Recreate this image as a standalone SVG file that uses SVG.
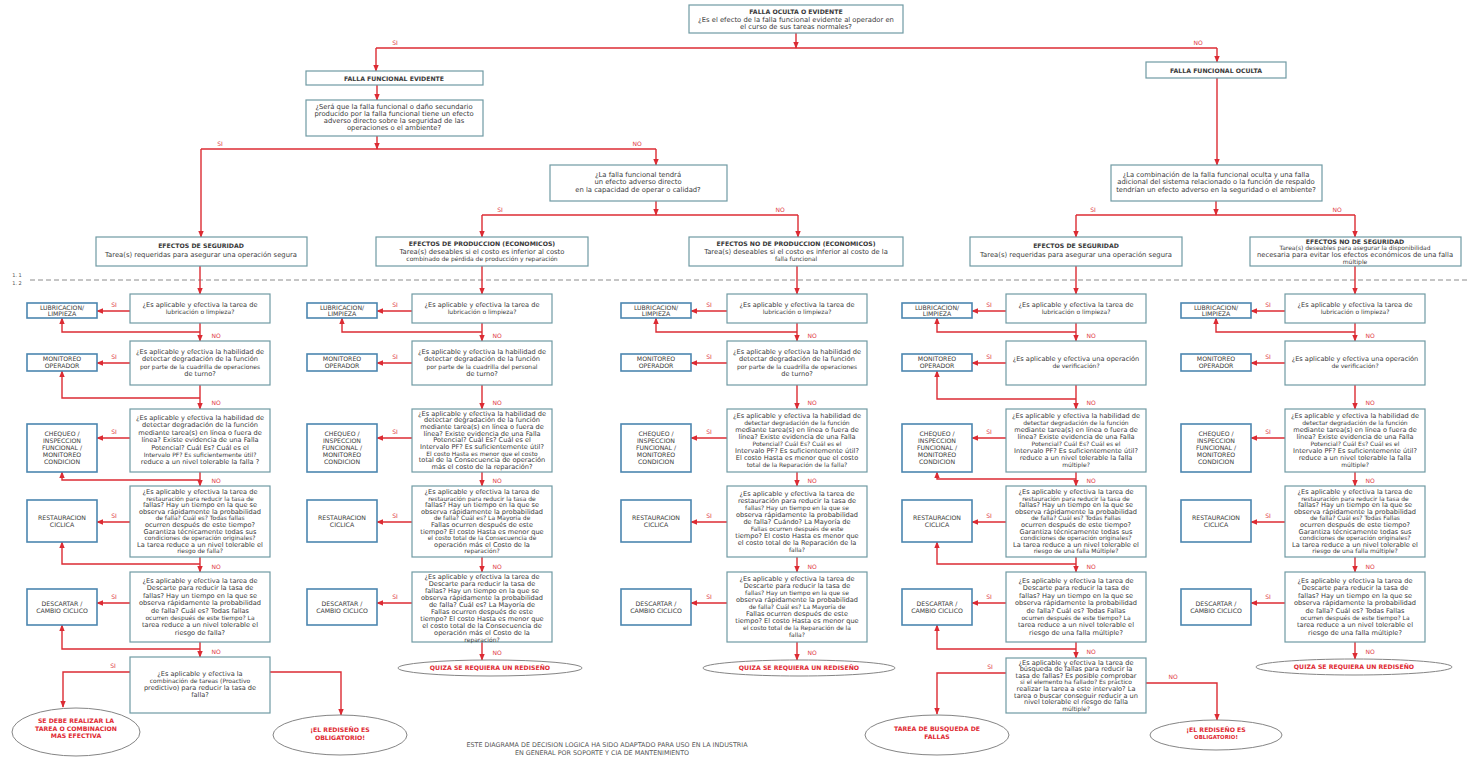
<svg xmlns="http://www.w3.org/2000/svg" width="1470" height="760" viewBox="0 0 1470 760">
<style>
  .bx{fill:#fff;stroke:#6f9aa3;stroke-width:1.2}
  .tk{fill:#fff;stroke:#4b86b0;stroke-width:1.6}
  .ln{fill:none;stroke:#dc2b33;stroke-width:1.4}
  .arr{marker-end:url(#ah)}
  .js{marker-start:url(#ah)}
  .dash{stroke:#8c8c8c;stroke-width:1;stroke-dasharray:5 3;fill:none}
  text{font-family:"DejaVu Sans","Liberation Sans",sans-serif;fill:#3a3a3a;text-anchor:middle}
  .h{font-size:6.2px;font-weight:bold}
  .s{font-size:6.8px}
  .q{font-size:6.6px}
  .sm{font-size:6px}
  .tt{font-size:6.2px}
  .lb{font-size:6px;fill:#e0353d}
  .el{fill:#fff;stroke:#858585;stroke-width:1}
  .et{font-size:6.2px;font-weight:bold;fill:#e02a33}
  .nt{font-size:6.4px;fill:#555}
  .mk{font-size:5px;fill:#555}
</style>
<defs>
  <marker id="ah" viewBox="0 0 10 10" refX="9" refY="5" markerWidth="5" markerHeight="5" orient="auto-start-reverse">
    <path d="M0,1 L10,5 L0,9z" fill="#dc2b33"/>
  </marker>
</defs>

<!-- page fold marker -->
<path class="dash" d="M30,280 H1470"/>
<text x="17" y="277" class="mk">1. 1</text>
<text x="17" y="285" class="mk">1. 2</text>

<!-- ===== connectors ===== -->
<g id="connectors">
  <!-- upper decision tree -->
  <path class="ln arr" d="M796,33 V48"/>
  <path class="ln" d="M376,48 H1217"/>
  <path class="ln arr" d="M376,48 V71"/>
  <path class="ln arr" d="M1217,48 V62"/>
  <path class="ln arr" d="M377,85 V100"/>
  <path class="ln arr" d="M377,136 V149"/>
  <path class="ln" d="M201,149 H656"/>
  <path class="ln arr" d="M201,149 V237"/>
  <path class="ln arr" d="M656,149 V165"/>
  <path class="ln arr" d="M656,201 V215"/>
  <path class="ln" d="M482,215 H798"/>
  <path class="ln arr" d="M482,215 V237"/>
  <path class="ln arr" d="M798,215 V237"/>
  <path class="ln arr" d="M1217,78 V165"/>
  <path class="ln arr" d="M1216,201 V215"/>
  <path class="ln" d="M1076,215 H1355"/>
  <path class="ln arr" d="M1076,215 V237"/>
  <path class="ln arr" d="M1355,215 V237"/>
  <!-- effects to first question -->
  <path class="ln arr" d="M200,266 V294"/>
  <path class="ln arr" d="M482,266 V294"/>
  <path class="ln arr" d="M797,266 V294"/>
  <path class="ln arr" d="M1076,266 V294"/>
  <path class="ln arr" d="M1355,266 V294"/>

  <!-- column 1 -->
  <path class="ln arr" d="M200,323 V341"/>
  <path class="ln arr" d="M200,385 V409"/>
  <path class="ln arr" d="M200,472 V486"/>
  <path class="ln arr" d="M200,557 V572"/>
  <path class="ln arr" d="M200,642 V657"/>
  <path class="ln arr" d="M130,311 H97"/>
  <path class="ln arr" d="M130,363 H97"/>
  <path class="ln arr" d="M130,438 H97"/>
  <path class="ln arr" d="M130,522 H97"/>
  <path class="ln arr" d="M130,603 H97"/>
  <path class="ln js" d="M62,318 V332 H200"/>
  <path class="ln js" d="M62,371 V398 H200"/>
  <path class="ln js" d="M62,472 V480 H200"/>
  <path class="ln js" d="M62,542 V564 H200"/>
  <path class="ln js" d="M62,625 V649 H200"/>
  <path class="ln arr" d="M130,672 H63 V707"/>
  <path class="ln arr" d="M270,672 H341 V715"/>

  <!-- column 2 -->
  <path class="ln arr" d="M482,323 V341"/>
  <path class="ln arr" d="M482,385 V409"/>
  <path class="ln arr" d="M482,472 V486"/>
  <path class="ln arr" d="M482,557 V572"/>
  <path class="ln arr" d="M482,642 V660"/>
  <path class="ln arr" d="M412,311 H377"/>
  <path class="ln arr" d="M412,363 H377"/>
  <path class="ln arr" d="M412,438 H377"/>
  <path class="ln arr" d="M412,522 H377"/>
  <path class="ln arr" d="M412,603 H377"/>
  <path class="ln js" d="M342,318 V332 H482"/>

  <!-- column 3 -->
  <path class="ln arr" d="M797,323 V341"/>
  <path class="ln arr" d="M797,385 V409"/>
  <path class="ln arr" d="M797,472 V486"/>
  <path class="ln arr" d="M797,557 V572"/>
  <path class="ln arr" d="M797,642 V660"/>
  <path class="ln arr" d="M727,311 H691"/>
  <path class="ln arr" d="M727,363 H691"/>
  <path class="ln arr" d="M727,438 H691"/>
  <path class="ln arr" d="M727,522 H691"/>
  <path class="ln arr" d="M727,603 H691"/>
  <path class="ln js" d="M656,318 V332 H797"/>

  <!-- column 4 -->
  <path class="ln arr" d="M1076,323 V341"/>
  <path class="ln arr" d="M1076,385 V409"/>
  <path class="ln arr" d="M1076,472 V486"/>
  <path class="ln arr" d="M1076,557 V572"/>
  <path class="ln arr" d="M1076,642 V658"/>
  <path class="ln arr" d="M1006,311 H972"/>
  <path class="ln arr" d="M1006,363 H972"/>
  <path class="ln arr" d="M1006,438 H972"/>
  <path class="ln arr" d="M1006,522 H972"/>
  <path class="ln arr" d="M1006,603 H972"/>
  <path class="ln js" d="M937,318 V332 H1076"/>
  <path class="ln js" d="M937,371 V399 H1076"/>
  <path class="ln js" d="M937,472 V479 H1076"/>
  <path class="ln js" d="M937,542 V564 H1076"/>
  <path class="ln js" d="M937,625 V649 H1076"/>
  <path class="ln arr" d="M1006,673 H937 V714"/>
  <path class="ln arr" d="M1146,683 H1217 V720"/>

  <!-- column 5 -->
  <path class="ln arr" d="M1355,323 V341"/>
  <path class="ln arr" d="M1355,385 V409"/>
  <path class="ln arr" d="M1355,472 V486"/>
  <path class="ln arr" d="M1355,557 V572"/>
  <path class="ln arr" d="M1355,642 V659"/>
  <path class="ln arr" d="M1285,311 H1251"/>
  <path class="ln arr" d="M1285,363 H1251"/>
  <path class="ln arr" d="M1285,438 H1251"/>
  <path class="ln arr" d="M1285,522 H1251"/>
  <path class="ln arr" d="M1285,603 H1251"/>
  <path class="ln js" d="M1216,318 V332 H1355"/>

  <!-- branch labels -->
  <g class="lbls">
    <text class="lb" x="395" y="45">SI</text>
    <text class="lb" x="1198" y="45">NO</text>
    <text class="lb" x="220" y="146">SI</text>
    <text class="lb" x="637" y="146">NO</text>
    <text class="lb" x="500" y="212">SI</text>
    <text class="lb" x="780" y="212">NO</text>
    <text class="lb" x="1093" y="212">SI</text>
    <text class="lb" x="1337" y="212">NO</text>
    <!-- col 1 -->
    <text class="lb" x="114" y="307">SI</text><text class="lb" x="114" y="359">SI</text><text class="lb" x="114" y="434">SI</text><text class="lb" x="114" y="518">SI</text><text class="lb" x="114" y="599">SI</text><text class="lb" x="113" y="668">SI</text>
    <text class="lb" x="216" y="338">NO</text><text class="lb" x="216" y="405">NO</text><text class="lb" x="216" y="483">NO</text><text class="lb" x="216" y="569">NO</text><text class="lb" x="216" y="654">NO</text>
    <!-- col 2 -->
    <text class="lb" x="395" y="307">SI</text><text class="lb" x="395" y="359">SI</text><text class="lb" x="395" y="434">SI</text><text class="lb" x="395" y="518">SI</text><text class="lb" x="395" y="599">SI</text>
    <text class="lb" x="497" y="338">NO</text><text class="lb" x="497" y="405">NO</text><text class="lb" x="497" y="483">NO</text><text class="lb" x="497" y="569">NO</text><text class="lb" x="497" y="655">NO</text>
    <!-- col 3 -->
    <text class="lb" x="709" y="307">SI</text><text class="lb" x="709" y="359">SI</text><text class="lb" x="709" y="434">SI</text><text class="lb" x="709" y="518">SI</text><text class="lb" x="709" y="599">SI</text>
    <text class="lb" x="812" y="338">NO</text><text class="lb" x="812" y="405">NO</text><text class="lb" x="812" y="483">NO</text><text class="lb" x="812" y="569">NO</text><text class="lb" x="812" y="655">NO</text>
    <!-- col 4 -->
    <text class="lb" x="989" y="307">SI</text><text class="lb" x="989" y="359">SI</text><text class="lb" x="989" y="434">SI</text><text class="lb" x="989" y="518">SI</text><text class="lb" x="989" y="599">SI</text><text class="lb" x="990" y="669">SI</text>
    <text class="lb" x="1091" y="338">NO</text><text class="lb" x="1091" y="405">NO</text><text class="lb" x="1091" y="483">NO</text><text class="lb" x="1091" y="569">NO</text><text class="lb" x="1091" y="654">NO</text><text class="lb" x="1173" y="679">NO</text>
    <!-- col 5 -->
    <text class="lb" x="1268" y="307">SI</text><text class="lb" x="1268" y="359">SI</text><text class="lb" x="1268" y="434">SI</text><text class="lb" x="1268" y="518">SI</text><text class="lb" x="1268" y="599">SI</text>
    <text class="lb" x="1370" y="338">NO</text><text class="lb" x="1370" y="405">NO</text><text class="lb" x="1370" y="483">NO</text><text class="lb" x="1370" y="569">NO</text><text class="lb" x="1370" y="654">NO</text>
  </g>
</g>

<!-- ===== upper decision nodes ===== -->
<g id="falla-oculta-evidente">
  <rect class="bx" x="689" y="5" width="214" height="28"/>
  <text class="h" x="796" y="14">FALLA OCULTA O EVIDENTE</text>
  <text class="s" x="796" y="22">¿Es el efecto de la falla funcional evidente al operador en</text>
  <text class="s" x="796" y="29">el curso de sus tareas normales?</text>
</g>
<g id="falla-evidente">
  <rect class="bx" x="306" y="71" width="177" height="14"/>
  <text class="h" x="394" y="80.5">FALLA FUNCIONAL EVIDENTE</text>
</g>
<g id="q-seguridad-evidente">
  <rect class="bx" x="306" y="100" width="177" height="36"/>
  <text class="s" x="394" y="109">¿Será que la falla funcional o daño secundario</text>
  <text class="s" x="394" y="116">producido por la falla funcional tiene un efecto</text>
  <text class="s" x="394" y="123">adverso directo sobre la seguridad de las</text>
  <text class="s" x="394" y="130">operaciones o el ambiente?</text>
</g>
<g id="q-produccion">
  <rect class="bx" x="550" y="165" width="177" height="36"/>
  <text class="s" x="638" y="177">¿La falla funcional tendrá</text>
  <text class="s" x="638" y="184">un efecto adverso directo</text>
  <text class="s" x="638" y="192">en la capacidad de operar o calidad?</text>
</g>
<g id="falla-oculta">
  <rect class="bx" x="1146" y="62" width="140" height="16"/>
  <text class="h" x="1216" y="72.5">FALLA FUNCIONAL OCULTA</text>
</g>
<g id="q-falla-multiple">
  <rect class="bx" x="1111" y="165" width="211" height="36"/>
  <text class="s" x="1216" y="177">¿La combinación de la falla funcional oculta y una falla</text>
  <text class="s" x="1216" y="184">adicional del sistema relacionado o la función de respaldo</text>
  <text class="s" x="1216" y="192">tendrían un efecto adverso en la seguridad o el ambiente?</text>
</g>

<!-- ===== consequence nodes ===== -->
<g id="efectos-seguridad-1">
  <rect class="bx" x="96" y="237" width="211" height="29"/>
  <text class="h" x="201" y="248">EFECTOS DE SEGURIDAD</text>
  <text class="s" x="201" y="257">Tarea(s) requeridas para asegurar una operación segura</text>
</g>
<g id="efectos-produccion">
  <rect class="bx" x="376" y="237" width="212" height="29"/>
  <text class="h" x="482" y="246">EFECTOS DE PRODUCCION (ECONOMICOS)</text>
  <text class="s" x="482" y="253.5">Tarea(s) deseables si el costo es inferior al costo</text>
  <text class="sm" x="482" y="260.5">combinado de pérdida de producción y reparación</text>
</g>
<g id="efectos-no-produccion">
  <rect class="bx" x="689" y="237" width="214" height="29"/>
  <text class="h" x="796" y="246">EFECTOS NO DE PRODUCCION (ECONOMICOS)</text>
  <text class="s" x="796" y="253.5">Tarea(s) deseables si el costo es inferior al costo de la</text>
  <text class="sm" x="796" y="260.5">falla funcional</text>
</g>
<g id="efectos-seguridad-2">
  <rect class="bx" x="970" y="237" width="212" height="29"/>
  <text class="h" x="1076" y="248">EFECTOS DE SEGURIDAD</text>
  <text class="s" x="1076" y="257">Tarea(s) requeridas para asegurar una operación segura</text>
</g>
<g id="efectos-no-seguridad">
  <rect class="bx" x="1250" y="237" width="211" height="29"/>
  <text class="h" x="1355" y="243.5">EFECTOS NO DE SEGURIDAD</text>
  <text class="sm" x="1355" y="250">Tarea(s) deseables para asegurar la disponibilidad</text>
  <text class="s" x="1355" y="257">necesaria para evitar los efectos económicos de una falla</text>
  <text class="sm" x="1355" y="263.5">múltiple</text>
</g>

<!-- ===== column 1 : seguridad (evidente) ===== -->
<g id="c1-q1"><rect class="bx" x="130" y="294" width="140" height="29"/>
  <text class="q" x="200" y="307">¿Es aplicable y efectiva la tarea de</text><text class="sm" x="200" y="314">lubricación o limpieza?</text></g>
<g id="c1-q2"><rect class="bx" x="130" y="341" width="140" height="44"/>
  <text class="q" x="200" y="354"><tspan x="200">¿Es aplicable y efectiva la habilidad de</tspan><tspan x="200" dy="7.3">detectar degradación de la función</tspan><tspan x="200" dy="7.3" class="sm">por parte de la cuadrilla de operaciones</tspan><tspan x="200" dy="7.3">de turno?</tspan></text></g>
<g id="c1-q3"><rect class="bx" x="130" y="409" width="140" height="63"/>
  <text class="q" x="200" y="420"><tspan x="200">¿Es aplicable y efectiva la habilidad de</tspan><tspan x="200" dy="7.4">detectar degradación de la función</tspan><tspan x="200" dy="7.4">mediante tarea(s) en línea o fuera de</tspan><tspan x="200" dy="7.4">línea? Existe evidencia de una Falla</tspan><tspan x="200" dy="7.4">Potencial? Cuál Es? Cuál es el</tspan><tspan x="200" dy="7.4" class="sm">Intervalo PF? Es suficientemente útil?</tspan><tspan x="200" dy="7.4">reduce a un nivel tolerable la falla ?</tspan></text></g>
<g id="c1-q4"><rect class="bx" x="130" y="486" width="140" height="71"/>
  <text class="q" x="200" y="494"><tspan x="200">¿Es aplicable y efectiva la tarea de</tspan><tspan x="200" dy="6.6" class="sm">restauración para reducir la tasa de</tspan><tspan x="200" dy="6.6">fallas? Hay un tiempo en la que se</tspan><tspan x="200" dy="6.6">observa rápidamente la probabilidad</tspan><tspan x="200" dy="6.6" class="sm">de falla? Cuál es? Todas fallas</tspan><tspan x="200" dy="6.6">ocurren después de este tiempo?</tspan><tspan x="200" dy="6.6">Garantiza técnicamente todas sus</tspan><tspan x="200" dy="6.6" class="sm">condiciones de operación originales?</tspan><tspan x="200" dy="6.6">La tarea reduce a un nivel tolerable el</tspan><tspan x="200" dy="6.6" class="sm">riesgo de falla?</tspan></text></g>
<g id="c1-q5"><rect class="bx" x="130" y="572" width="140" height="70"/>
  <text class="q" x="200" y="583"><tspan x="200">¿Es aplicable y efectiva la tarea de</tspan><tspan x="200" dy="7.4">Descarte para reducir la tasa de</tspan><tspan x="200" dy="7.4">fallas? Hay un tiempo en la que se</tspan><tspan x="200" dy="7.4">observa rápidamente la probabilidad</tspan><tspan x="200" dy="7.4">de falla? Cuál es? Todas fallas</tspan><tspan x="200" dy="7.4" class="sm">ocurren después de este tiempo? La</tspan><tspan x="200" dy="7.4">tarea reduce a un nivel tolerable el</tspan><tspan x="200" dy="7.4">riesgo de falla?</tspan></text></g>
<g id="c1-q6"><rect class="bx" x="130" y="657" width="140" height="56"/>
  <text class="q" x="200" y="676"><tspan x="200">¿Es aplicable y efectiva la</tspan><tspan x="200" dy="7" class="sm">combinación de tareas (Proactivo</tspan><tspan x="200" dy="7">predictivo) para reducir la tasa de</tspan><tspan x="200" dy="7">falla?</tspan></text></g>
<g id="c1-t1"><rect class="tk" x="27" y="303" width="70" height="15"/><text class="tt" x="62" y="309.5">LUBRICACION/</text><text class="tt" x="62" y="316">LIMPIEZA</text></g>
<g id="c1-t2"><rect class="tk" x="27" y="354" width="70" height="17"/><text class="tt" x="62" y="361">MONITOREO</text><text class="tt" x="62" y="368">OPERADOR</text></g>
<g id="c1-t3"><rect class="tk" x="27" y="424" width="70" height="48"/><text class="tt" x="62" y="436"><tspan x="62">CHEQUEO /</tspan><tspan x="62" dy="7">INSPECCION</tspan><tspan x="62" dy="7">FUNCIONAL /</tspan><tspan x="62" dy="7">MONITOREO</tspan><tspan x="62" dy="7">CONDICION</tspan></text></g>
<g id="c1-t4"><rect class="tk" x="27" y="500" width="70" height="42"/><text class="tt" x="62" y="519.5">RESTAURACION</text><text class="tt" x="62" y="527">CICLICA</text></g>
<g id="c1-t5"><rect class="tk" x="27" y="589" width="70" height="36"/><text class="tt" x="62" y="605.5">DESCARTAR /</text><text class="tt" x="62" y="612.5">CAMBIO CICLICO</text></g>
<g id="c1-fin-si"><ellipse class="el" cx="76" cy="732" rx="64" ry="24"/>
  <text class="et" x="76" y="723">SE DEBE REALIZAR LA</text><text class="et" x="76" y="730.5">TAREA O COMBINACION</text><text class="et" x="76" y="738">MAS EFECTIVA</text></g>
<g id="c1-fin-no"><ellipse class="el" cx="340" cy="735" rx="67" ry="20"/>
  <text class="et" x="340" y="732">¡EL REDISEÑO ES</text><text class="et" x="340" y="739.5">OBLIGATORIO!</text></g>

<!-- ===== column 2 : produccion ===== -->
<g id="c2-q1"><rect class="bx" x="412" y="294" width="140" height="29"/>
  <text class="q" x="482" y="307">¿Es aplicable y efectiva la tarea de</text><text class="sm" x="482" y="314">lubricación o limpieza?</text></g>
<g id="c2-q2"><rect class="bx" x="412" y="341" width="140" height="44"/>
  <text class="q" x="482" y="354"><tspan x="482">¿Es aplicable y efectiva la habilidad de</tspan><tspan x="482" dy="7.3">detectar degradación de la función</tspan><tspan x="482" dy="7.3" class="sm">por parte de la cuadrilla del personal</tspan><tspan x="482" dy="7.3">de turno?</tspan></text></g>
<g id="c2-q3"><rect class="bx" x="412" y="409" width="140" height="63"/>
  <text class="q" x="482" y="415.5"><tspan x="482">¿Es aplicable y efectiva la habilidad de</tspan><tspan x="482" dy="6.7">detectar degradación de la función</tspan><tspan x="482" dy="6.7">mediante tarea(s) en línea o fuera de</tspan><tspan x="482" dy="6.7">línea? Existe evidencia de una Falla</tspan><tspan x="482" dy="6.7">Potencial? Cuál Es? Cuál es el</tspan><tspan x="482" dy="6.7">Intervalo PF? Es suficientemente útil?</tspan><tspan x="482" dy="6.7" class="sm">El costo Hasta es menor que el costo</tspan><tspan x="482" dy="6.7">total de la Consecuencia de operación</tspan><tspan x="482" dy="6.7">más el costo de la reparación?</tspan></text></g>
<g id="c2-q4"><rect class="bx" x="412" y="486" width="140" height="71"/>
  <text class="q" x="482" y="494"><tspan x="482">¿Es aplicable y efectiva la tarea de</tspan><tspan x="482" dy="6.6" class="sm">restauración para reducir la tasa de</tspan><tspan x="482" dy="6.6">fallas? Hay un tiempo en la que se</tspan><tspan x="482" dy="6.6">observa rápidamente la probabilidad</tspan><tspan x="482" dy="6.6" class="sm">de falla? Cuál es? La Mayoría de</tspan><tspan x="482" dy="6.6">Fallas ocurren después de este</tspan><tspan x="482" dy="6.6">tiempo? El costo Hasta es menor que</tspan><tspan x="482" dy="6.6" class="sm">el costo total de la Consecuencia de</tspan><tspan x="482" dy="6.6">operación más el Costo de la</tspan><tspan x="482" dy="6.6" class="sm">reparación?</tspan></text></g>
<g id="c2-q5"><rect class="bx" x="412" y="572" width="140" height="70"/>
  <text class="q" x="482" y="579"><tspan x="482">¿Es aplicable y efectiva la tarea de</tspan><tspan x="482" dy="7">Descarte para reducir la tasa de</tspan><tspan x="482" dy="7">fallas? Hay un tiempo en la que se</tspan><tspan x="482" dy="7">observa rápidamente la probabilidad</tspan><tspan x="482" dy="7">de falla? Cuál es? La Mayoría de</tspan><tspan x="482" dy="7">Fallas ocurren después de este</tspan><tspan x="482" dy="7">tiempo? El costo Hasta es menor que</tspan><tspan x="482" dy="7">el costo total de la Consecuencia de</tspan><tspan x="482" dy="7">operación más el Costo de la</tspan><tspan x="482" dy="7" class="sm">reparación?</tspan></text></g>
<g id="c2-t1"><rect class="tk" x="307" y="303" width="70" height="15"/><text class="tt" x="342" y="309.5">LUBRICACION/</text><text class="tt" x="342" y="316">LIMPIEZA</text></g>
<g id="c2-t2"><rect class="tk" x="307" y="354" width="70" height="17"/><text class="tt" x="342" y="361">MONITOREO</text><text class="tt" x="342" y="368">OPERADOR</text></g>
<g id="c2-t3"><rect class="tk" x="307" y="424" width="70" height="48"/><text class="tt" x="342" y="436"><tspan x="342">CHEQUEO /</tspan><tspan x="342" dy="7">INSPECCION</tspan><tspan x="342" dy="7">FUNCIONAL /</tspan><tspan x="342" dy="7">MONITOREO</tspan><tspan x="342" dy="7">CONDICION</tspan></text></g>
<g id="c2-t4"><rect class="tk" x="307" y="500" width="70" height="42"/><text class="tt" x="342" y="519.5">RESTAURACION</text><text class="tt" x="342" y="527">CICLICA</text></g>
<g id="c2-t5"><rect class="tk" x="307" y="589" width="70" height="36"/><text class="tt" x="342" y="605.5">DESCARTAR /</text><text class="tt" x="342" y="612.5">CAMBIO CICLICO</text></g>
<g id="c2-fin"><ellipse class="el" cx="490" cy="668" rx="92" ry="8"/>
  <text class="et" x="490" y="670">QUIZA SE REQUIERA UN REDISEÑO</text></g>

<!-- ===== column 3 : no produccion ===== -->
<g id="c3-q1"><rect class="bx" x="727" y="294" width="140" height="29"/>
  <text class="q" x="797" y="307">¿Es aplicable y efectiva la tarea de</text><text class="sm" x="797" y="314">lubricación o limpieza?</text></g>
<g id="c3-q2"><rect class="bx" x="727" y="341" width="140" height="44"/>
  <text class="q" x="797" y="354"><tspan x="797">¿Es aplicable y efectiva la habilidad de</tspan><tspan x="797" dy="7.3">detectar degradación de la función</tspan><tspan x="797" dy="7.3" class="sm">por parte de la cuadrilla de operaciones</tspan><tspan x="797" dy="7.3">de turno?</tspan></text></g>
<g id="c3-q3"><rect class="bx" x="727" y="409" width="140" height="63"/>
  <text class="q" x="797" y="418"><tspan x="797">¿Es aplicable y efectiva la habilidad de</tspan><tspan x="797" dy="7" class="sm">detectar degradación de la función</tspan><tspan x="797" dy="7">mediante tarea(s) en línea o fuera de</tspan><tspan x="797" dy="7">línea? Existe evidencia de una Falla</tspan><tspan x="797" dy="7" class="sm">Potencial? Cuál Es? Cuál es el</tspan><tspan x="797" dy="7">Intervalo PF? Es suficientemente útil?</tspan><tspan x="797" dy="7">El costo Hasta es menor que el costo</tspan><tspan x="797" dy="7" class="sm">total de la Reparación de la falla?</tspan></text></g>
<g id="c3-q4"><rect class="bx" x="727" y="486" width="140" height="71"/>
  <text class="q" x="797" y="495.5"><tspan x="797">¿Es aplicable y efectiva la tarea de</tspan><tspan x="797" dy="7">restauración para reducir la tasa de</tspan><tspan x="797" dy="7" class="sm">fallas? Hay un tiempo en la que se</tspan><tspan x="797" dy="7">observa rápidamente la probabilidad</tspan><tspan x="797" dy="7">de falla? Cuándo? La Mayoría de</tspan><tspan x="797" dy="7" class="sm">Fallas ocurren después de este</tspan><tspan x="797" dy="7">tiempo? El costo Hasta es menor que</tspan><tspan x="797" dy="7">el costo total de la Reparación de la</tspan><tspan x="797" dy="7" class="sm">falla?</tspan></text></g>
<g id="c3-q5"><rect class="bx" x="727" y="572" width="140" height="70"/>
  <text class="q" x="797" y="581"><tspan x="797">¿Es aplicable y efectiva la tarea de</tspan><tspan x="797" dy="7">Descarte para reducir la tasa de</tspan><tspan x="797" dy="7" class="sm">fallas? Hay un tiempo en la que se</tspan><tspan x="797" dy="7">observa rápidamente la probabilidad</tspan><tspan x="797" dy="7" class="sm">de falla? Cuál es? La Mayoría de</tspan><tspan x="797" dy="7">Fallas ocurren después de este</tspan><tspan x="797" dy="7">tiempo? El costo Hasta es menor que</tspan><tspan x="797" dy="7" class="sm">el costo total de la Reparación de la</tspan><tspan x="797" dy="7" class="sm">falla?</tspan></text></g>
<g id="c3-t1"><rect class="tk" x="621" y="303" width="70" height="15"/><text class="tt" x="656" y="309.5">LUBRICACION/</text><text class="tt" x="656" y="316">LIMPIEZA</text></g>
<g id="c3-t2"><rect class="tk" x="621" y="354" width="70" height="17"/><text class="tt" x="656" y="361">MONITOREO</text><text class="tt" x="656" y="368">OPERADOR</text></g>
<g id="c3-t3"><rect class="tk" x="621" y="424" width="70" height="48"/><text class="tt" x="656" y="436"><tspan x="656">CHEQUEO /</tspan><tspan x="656" dy="7">INSPECCION</tspan><tspan x="656" dy="7">FUNCIONAL /</tspan><tspan x="656" dy="7">MONITOREO</tspan><tspan x="656" dy="7">CONDICION</tspan></text></g>
<g id="c3-t4"><rect class="tk" x="621" y="500" width="70" height="42"/><text class="tt" x="656" y="519.5">RESTAURACION</text><text class="tt" x="656" y="527">CICLICA</text></g>
<g id="c3-t5"><rect class="tk" x="621" y="589" width="70" height="36"/><text class="tt" x="656" y="605.5">DESCARTAR /</text><text class="tt" x="656" y="612.5">CAMBIO CICLICO</text></g>
<g id="c3-fin"><ellipse class="el" cx="799" cy="668" rx="96" ry="8"/>
  <text class="et" x="799" y="670">QUIZA SE REQUIERA UN REDISEÑO</text></g>

<!-- ===== column 4 : seguridad (oculta) ===== -->
<g id="c4-q1"><rect class="bx" x="1006" y="294" width="140" height="29"/>
  <text class="q" x="1076" y="307">¿Es aplicable y efectiva la tarea de</text><text class="sm" x="1076" y="314">lubricación o limpieza?</text></g>
<g id="c4-q2"><rect class="bx" x="1006" y="341" width="140" height="44"/>
  <text class="q" x="1076" y="361">¿Es aplicable y efectiva una operación</text><text class="sm" x="1076" y="368">de verificación?</text></g>
<g id="c4-q3"><rect class="bx" x="1006" y="409" width="140" height="63"/>
  <text class="q" x="1076" y="418"><tspan x="1076">¿Es aplicable y efectiva la habilidad de</tspan><tspan x="1076" dy="7" class="sm">detectar degradación de la función</tspan><tspan x="1076" dy="7">mediante tarea(s) en línea o fuera de</tspan><tspan x="1076" dy="7">línea? Existe evidencia de una Falla</tspan><tspan x="1076" dy="7" class="sm">Potencial? Cuál Es? Cuál es el</tspan><tspan x="1076" dy="7">Intervalo PF? Es suficientemente útil?</tspan><tspan x="1076" dy="7">reduce a un nivel tolerable la falla</tspan><tspan x="1076" dy="7" class="sm">múltiple?</tspan></text></g>
<g id="c4-q4"><rect class="bx" x="1006" y="486" width="140" height="71"/>
  <text class="q" x="1076" y="494"><tspan x="1076">¿Es aplicable y efectiva la tarea de</tspan><tspan x="1076" dy="6.6" class="sm">restauración para reducir la tasa de</tspan><tspan x="1076" dy="6.6">fallas? Hay un tiempo en la que se</tspan><tspan x="1076" dy="6.6">observa rápidamente la probabilidad</tspan><tspan x="1076" dy="6.6" class="sm">de falla? Cuál es? Todas Fallas</tspan><tspan x="1076" dy="6.6">ocurren después de este tiempo?</tspan><tspan x="1076" dy="6.6">Garantiza técnicamente todas sus</tspan><tspan x="1076" dy="6.6" class="sm">condiciones de operación originales?</tspan><tspan x="1076" dy="6.6">La tarea reduce a un nivel tolerable el</tspan><tspan x="1076" dy="6.6" class="sm">riesgo de una falla Múltiple?</tspan></text></g>
<g id="c4-q5"><rect class="bx" x="1006" y="572" width="140" height="70"/>
  <text class="q" x="1076" y="583"><tspan x="1076">¿Es aplicable y efectiva la tarea de</tspan><tspan x="1076" dy="7.4">Descarte para reducir la tasa de</tspan><tspan x="1076" dy="7.4">fallas? Hay un tiempo en la que se</tspan><tspan x="1076" dy="7.4">observa rápidamente la probabilidad</tspan><tspan x="1076" dy="7.4">de falla? Cuál es? Todas Fallas</tspan><tspan x="1076" dy="7.4" class="sm">ocurren después de este tiempo? La</tspan><tspan x="1076" dy="7.4">tarea reduce a un nivel tolerable el</tspan><tspan x="1076" dy="7.4">riesgo de una falla múltiple?</tspan></text></g>
<g id="c4-q6"><rect class="bx" x="1006" y="658" width="140" height="55"/>
  <text class="q" x="1076" y="664.5"><tspan x="1076">¿Es aplicable y efectiva la tarea de</tspan><tspan x="1076" dy="6.6">búsqueda de fallas para reducir la</tspan><tspan x="1076" dy="6.6">tasa de fallas? Es posible comprobar</tspan><tspan x="1076" dy="6.6" class="sm">si el elemento ha fallado? Es práctico</tspan><tspan x="1076" dy="6.6">realizar la tarea a este intervalo? La</tspan><tspan x="1076" dy="6.6">tarea o buscar conseguir reducir a un</tspan><tspan x="1076" dy="6.6">nivel tolerable el riesgo de falla</tspan><tspan x="1076" dy="6.6" class="sm">múltiple?</tspan></text></g>
<g id="c4-t1"><rect class="tk" x="902" y="303" width="70" height="15"/><text class="tt" x="937" y="309.5">LUBRICACION/</text><text class="tt" x="937" y="316">LIMPIEZA</text></g>
<g id="c4-t2"><rect class="tk" x="902" y="354" width="70" height="17"/><text class="tt" x="937" y="361">MONITOREO</text><text class="tt" x="937" y="368">OPERADOR</text></g>
<g id="c4-t3"><rect class="tk" x="902" y="424" width="70" height="48"/><text class="tt" x="937" y="436"><tspan x="937">CHEQUEO /</tspan><tspan x="937" dy="7">INSPECCION</tspan><tspan x="937" dy="7">FUNCIONAL /</tspan><tspan x="937" dy="7">MONITOREO</tspan><tspan x="937" dy="7">CONDICION</tspan></text></g>
<g id="c4-t4"><rect class="tk" x="902" y="500" width="70" height="42"/><text class="tt" x="937" y="519.5">RESTAURACION</text><text class="tt" x="937" y="527">CICLICA</text></g>
<g id="c4-t5"><rect class="tk" x="902" y="589" width="70" height="36"/><text class="tt" x="937" y="605.5">DESCARTAR /</text><text class="tt" x="937" y="612.5">CAMBIO CICLICO</text></g>
<g id="c4-fin-si"><ellipse class="el" cx="937" cy="735" rx="72" ry="20"/>
  <text class="et" x="937" y="731">TAREA DE BUSQUEDA DE</text><text class="et" x="937" y="738.5">FALLAS</text></g>
<g id="c4-fin-no"><ellipse class="el" cx="1216" cy="735" rx="66" ry="15"/>
  <text class="et" x="1216" y="732">¡EL REDISEÑO ES</text><text class="et" x="1216" y="739" style="font-size:5.4px">OBLIGATORIO!</text></g>

<!-- ===== column 5 : no seguridad (oculta) ===== -->
<g id="c5-q1"><rect class="bx" x="1285" y="294" width="140" height="29"/>
  <text class="q" x="1355" y="307">¿Es aplicable y efectiva la tarea de</text><text class="sm" x="1355" y="314">lubricación o limpieza?</text></g>
<g id="c5-q2"><rect class="bx" x="1285" y="341" width="140" height="44"/>
  <text class="q" x="1355" y="361">¿Es aplicable y efectiva una operación</text><text class="sm" x="1355" y="368">de verificación?</text></g>
<g id="c5-q3"><rect class="bx" x="1285" y="409" width="140" height="63"/>
  <text class="q" x="1355" y="418"><tspan x="1355">¿Es aplicable y efectiva la habilidad de</tspan><tspan x="1355" dy="7" class="sm">detectar degradación de la función</tspan><tspan x="1355" dy="7">mediante tarea(s) en línea o fuera de</tspan><tspan x="1355" dy="7">línea? Existe evidencia de una Falla</tspan><tspan x="1355" dy="7" class="sm">Potencial? Cuál Es? Cuál es el</tspan><tspan x="1355" dy="7">Intervalo PF? Es suficientemente útil?</tspan><tspan x="1355" dy="7">reduce a un nivel tolerable la falla</tspan><tspan x="1355" dy="7" class="sm">múltiple?</tspan></text></g>
<g id="c5-q4"><rect class="bx" x="1285" y="486" width="140" height="71"/>
  <text class="q" x="1355" y="494"><tspan x="1355">¿Es aplicable y efectiva la tarea de</tspan><tspan x="1355" dy="6.6" class="sm">restauración para reducir la tasa de</tspan><tspan x="1355" dy="6.6">fallas? Hay un tiempo en la que se</tspan><tspan x="1355" dy="6.6">observa rápidamente la probabilidad</tspan><tspan x="1355" dy="6.6" class="sm">de falla? Cuál es? Todas Fallas</tspan><tspan x="1355" dy="6.6">ocurren después de este tiempo?</tspan><tspan x="1355" dy="6.6">Garantiza técnicamente todas sus</tspan><tspan x="1355" dy="6.6" class="sm">condiciones de operación originales?</tspan><tspan x="1355" dy="6.6">La tarea reduce a un nivel tolerable el</tspan><tspan x="1355" dy="6.6" class="sm">riesgo de una falla múltiple?</tspan></text></g>
<g id="c5-q5"><rect class="bx" x="1285" y="572" width="140" height="70"/>
  <text class="q" x="1355" y="583"><tspan x="1355">¿Es aplicable y efectiva la tarea de</tspan><tspan x="1355" dy="7.4">Descarte para reducir la tasa de</tspan><tspan x="1355" dy="7.4">fallas? Hay un tiempo en la que se</tspan><tspan x="1355" dy="7.4">observa rápidamente la probabilidad</tspan><tspan x="1355" dy="7.4">de falla? Cuál es? Todas Fallas</tspan><tspan x="1355" dy="7.4" class="sm">ocurren después de este tiempo? La</tspan><tspan x="1355" dy="7.4">tarea reduce a un nivel tolerable el</tspan><tspan x="1355" dy="7.4">riesgo de una falla múltiple?</tspan></text></g>
<g id="c5-t1"><rect class="tk" x="1181" y="303" width="70" height="15"/><text class="tt" x="1216" y="309.5">LUBRICACION/</text><text class="tt" x="1216" y="316">LIMPIEZA</text></g>
<g id="c5-t2"><rect class="tk" x="1181" y="354" width="70" height="17"/><text class="tt" x="1216" y="361">MONITOREO</text><text class="tt" x="1216" y="368">OPERADOR</text></g>
<g id="c5-t3"><rect class="tk" x="1181" y="424" width="70" height="48"/><text class="tt" x="1216" y="436"><tspan x="1216">CHEQUEO /</tspan><tspan x="1216" dy="7">INSPECCION</tspan><tspan x="1216" dy="7">FUNCIONAL /</tspan><tspan x="1216" dy="7">MONITOREO</tspan><tspan x="1216" dy="7">CONDICION</tspan></text></g>
<g id="c5-t4"><rect class="tk" x="1181" y="500" width="70" height="42"/><text class="tt" x="1216" y="519.5">RESTAURACION</text><text class="tt" x="1216" y="527">CICLICA</text></g>
<g id="c5-t5"><rect class="tk" x="1181" y="589" width="70" height="36"/><text class="tt" x="1216" y="605.5">DESCARTAR /</text><text class="tt" x="1216" y="612.5">CAMBIO CICLICO</text></g>
<g id="c5-fin"><ellipse class="el" cx="1354" cy="667" rx="98" ry="8"/>
  <text class="et" x="1354" y="669">QUIZA SE REQUIERA UN REDISEÑO</text></g>

<!-- footnote -->
<g id="nota">
  <text class="nt" x="607" y="747">ESTE DIAGRAMA DE DECISION LOGICA HA SIDO ADAPTADO PARA USO EN LA INDUSTRIA</text>
  <text class="nt" x="602" y="755">EN GENERAL POR SOPORTE Y CIA DE MANTENIMIENTO</text>
</g>
</svg>
